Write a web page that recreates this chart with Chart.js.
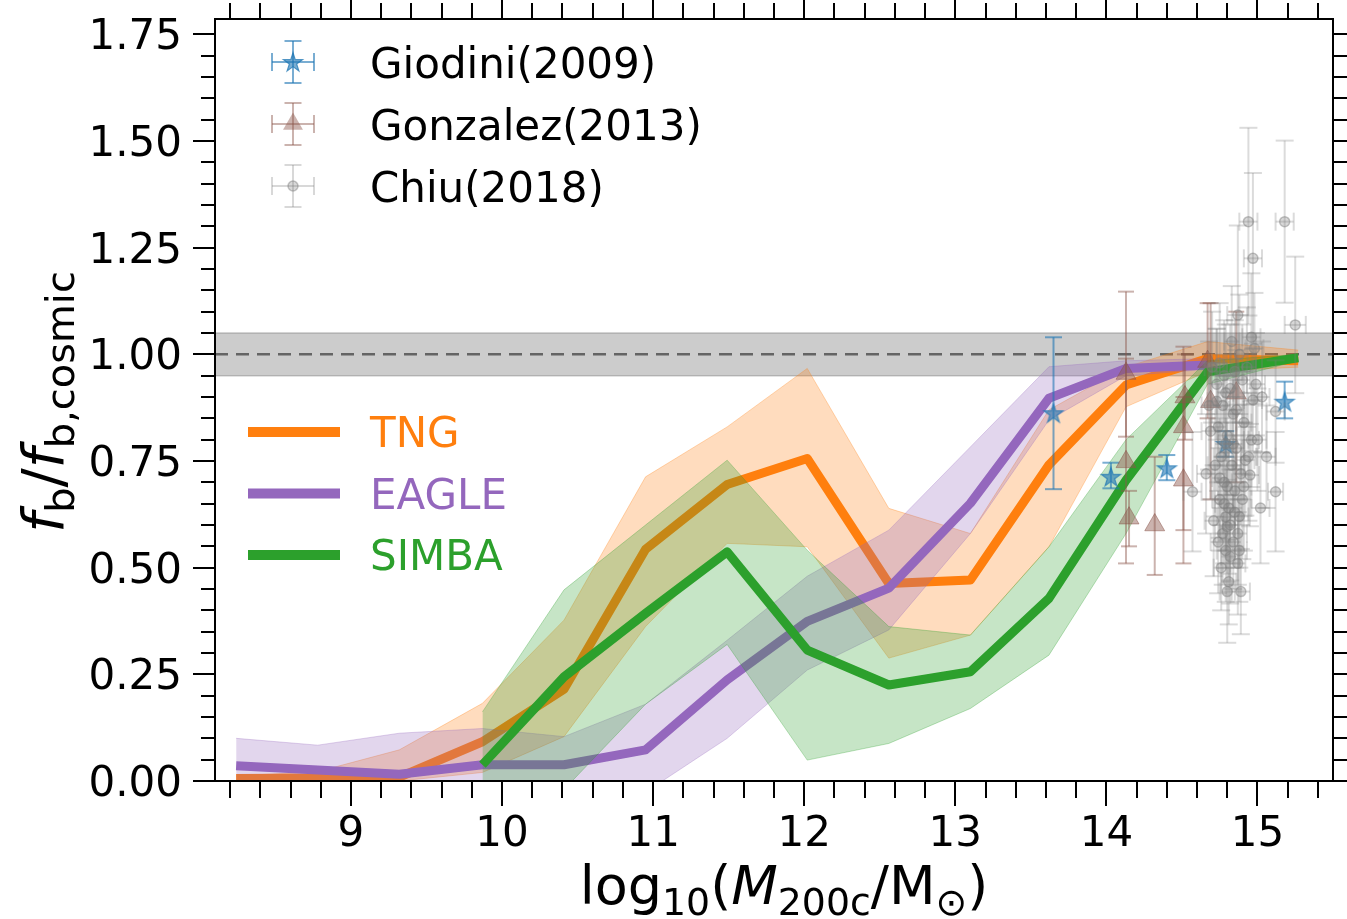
<!DOCTYPE html>
<html>
<head>
<meta charset="utf-8">
<title>Baryon fraction vs halo mass</title>
<script src="https://cdn.jsdelivr.net/npm/chart.js@4.4.1/dist/chart.umd.min.js"></script>
<style>
html,body{margin:0;padding:0;background:#ffffff;overflow:hidden;}
#box{position:relative;width:1347px;height:919px;}
</style>
</head>
<body>
<div id="box"><canvas id="chart" width="1347" height="919"></canvas></div>
<script>
// ---------------- data ----------------
const massBins = [8.24, 8.78, 9.32, 9.87, 10.41, 10.95, 11.49, 12.02, 12.56, 13.10, 13.62, 14.13, 14.67, 15.27];

const tngMedian = [0.006, 0.007, 0.009, 0.092, 0.215, 0.543, 0.695, 0.756, 0.463, 0.471, 0.741, 0.928, 0.990, 0.985];
const tngLow    = [0.000, 0.000, 0.000, 0.020, 0.104, 0.362, 0.557, 0.549, 0.288, 0.342, 0.549, 0.877, 0.960, 0.970];
const tngHigh   = [0.012, 0.022, 0.073, 0.182, 0.377, 0.713, 0.830, 0.967, 0.639, 0.580, 0.870, 0.970, 1.030, 1.010];

const eagleMedian = [0.036, 0.026, 0.016, 0.038, 0.038, 0.073, 0.237, 0.374, 0.452, 0.651, 0.897, 0.967, 0.975];
const eagleLow    = [0.000, 0.000, 0.000, 0.000, -0.020, -0.026, 0.100, 0.260, 0.354, 0.580, 0.846, 0.950, 0.965];
const eagleHigh   = [0.100, 0.084, 0.112, 0.123, 0.104, 0.180, 0.330, 0.480, 0.588, 0.783, 0.971, 0.985, 0.990];

const simbaMedian = [0.038, 0.244, 0.393, 0.537, 0.307, 0.225, 0.256, 0.428, 0.705, 0.959, 0.992];
const simbaLow    = [0.000, -0.020, 0.180, 0.320, 0.049, 0.088, 0.170, 0.295, 0.580, 0.930, 0.985];
const simbaHigh   = [0.162, 0.448, 0.600, 0.752, 0.541, 0.362, 0.342, 0.549, 0.800, 0.985, 1.000];

const giodiniX   = [13.65, 14.03, 14.40, 14.79, 15.18];
const giodiniY   = [0.862, 0.713, 0.733, 0.790, 0.889];
const giodiniYLo = [0.684, 0.686, 0.705, 0.760, 0.850];
const giodiniYHi = [1.040, 0.746, 0.764, 0.820, 0.936];

const gonzalezX   = [14.13, 14.13, 14.15, 14.32, 14.51, 14.51, 14.52, 14.69, 14.67, 14.86];
const gonzalezY   = [0.955, 0.748, 0.616, 0.600, 0.830, 0.705, 0.900, 0.889, 0.983, 0.909];
const gonzalezYLo = [0.807, 0.510, 0.550, 0.483, 0.588, 0.510, 0.800, 0.660, 0.850, 0.700];
const gonzalezYHi = [1.147, 0.990, 0.680, 0.760, 1.018, 0.900, 1.000, 1.120, 1.120, 1.100];

const chiuX = [15.25, 15.18, 14.94, 14.97, 14.87, 15.12, 15.12, 14.98, 14.97, 14.96,
               14.95, 14.92, 14.79, 14.79, 14.80, 14.82, 14.81, 14.89, 14.80, 14.57,
               14.75, 14.78, 14.82, 14.85, 14.88, 14.90, 14.77, 14.84, 14.91, 14.74,
               14.80, 14.86, 14.76, 14.83, 14.89, 14.78, 14.85, 14.75, 14.81, 14.88,
               14.77, 14.84, 14.79, 14.86, 14.93, 14.73, 14.96, 14.70, 14.83, 14.99,
               14.72, 15.00, 14.87, 14.76, 14.71, 14.74, 14.78, 14.82, 14.87, 14.91,
               14.69, 14.75, 14.80, 14.85, 14.90, 14.94, 14.73, 14.79, 14.84, 14.88,
               14.66, 15.03, 15.06, 14.68, 15.02];
const chiuY = [1.069, 1.311, 1.311, 1.225, 1.092, 0.866, 0.678, 1.014, 0.893, 0.799,
               0.717, 0.752, 0.791, 0.619, 0.596, 0.526, 0.467, 0.444, 0.444, 0.678,
               0.980, 0.950, 0.920, 0.960, 1.000, 0.940, 0.880, 0.860, 0.840, 0.830,
               0.810, 0.780, 0.760, 0.740, 0.720, 0.700, 0.680, 0.660, 0.640, 0.620,
               0.580, 0.560, 0.540, 0.870, 0.970, 0.930, 1.040, 0.970, 1.030, 0.930,
               0.740, 0.800, 0.510, 0.500, 0.610, 0.560, 0.650, 0.600, 0.580, 0.690,
               0.820, 0.710, 0.690, 0.630, 0.660, 0.760, 0.890, 0.910, 0.790, 0.540,
               0.720, 0.900, 0.760, 0.880, 0.640];
const chiuYErr = [0.16, 0.19, 0.22, 0.20, 0.21, 0.12, 0.14, 0.13, 0.12, 0.11,
                  0.12, 0.13, 0.12, 0.12, 0.11, 0.11, 0.10, 0.10, 0.12, 0.14,
                  0.14, 0.13, 0.15, 0.12, 0.14, 0.13, 0.12, 0.13, 0.12, 0.13,
                  0.14, 0.12, 0.12, 0.13, 0.12, 0.12, 0.13, 0.12, 0.13, 0.12,
                  0.12, 0.11, 0.12, 0.14, 0.14, 0.13, 0.15, 0.13, 0.13, 0.12,
                  0.12, 0.12, 0.12, 0.10, 0.13, 0.12, 0.14, 0.13, 0.12, 0.15,
                  0.16, 0.14, 0.15, 0.13, 0.14, 0.15, 0.17, 0.16, 0.15, 0.12,
                  0.14, 0.13, 0.12, 0.15, 0.13];
const chiuXErr = [0.07, 0.06, 0.06, 0.06, 0.07, 0.06, 0.05, 0.06, 0.06, 0.05,
                  0.06, 0.06, 0.05, 0.06, 0.05, 0.06, 0.05, 0.06, 0.05, 0.06,
                  0.05, 0.06, 0.05, 0.05, 0.06, 0.05, 0.05, 0.06, 0.05, 0.05,
                  0.06, 0.05, 0.05, 0.06, 0.05, 0.05, 0.06, 0.05, 0.05, 0.06,
                  0.05, 0.05, 0.06, 0.05, 0.06, 0.05, 0.06, 0.05, 0.05, 0.06,
                  0.05, 0.06, 0.05, 0.05, 0.06, 0.05, 0.06, 0.05, 0.06, 0.05,
                  0.06, 0.05, 0.06, 0.05, 0.06, 0.05, 0.06, 0.05, 0.06, 0.05,
                  0.06, 0.05, 0.06, 0.05, 0.06];

const cosmicX = [8.1, 15.5];
const cosmicLevel = 1.0;
const cosmicLow = 0.95;
const cosmicHigh = 1.05;

const xTickValues = [9, 10, 11, 12, 13, 14, 15];
const yTickValues = [0, 0.25, 0.5, 0.75, 1.0, 1.25, 1.5, 1.75];

const obsNames = ['Giodini(2009)', 'Gonzalez(2013)', 'Chiu(2018)'];
const simNames = ['TNG', 'EAGLE', 'SIMBA'];

// ---------------- styles ----------------
const FONT = "'DejaVu Sans', 'Verdana', sans-serif";
const COL = { tng: '#ff7f0e', eagle: '#9467bd', simba: '#2ca02c',
              gio: [31, 119, 180], gon: [140, 86, 75], chiu: [127, 127, 127] };
function rgba(hex, a) {
  const n = parseInt(hex.slice(1), 16);
  return `rgba(${(n >> 16) & 255},${(n >> 8) & 255},${n & 255},${a})`;
}
function rgbaA(arr, a) { return `rgba(${arr[0]},${arr[1]},${arr[2]},${a})`; }

function makeStar(R, fill, edge) {
  const s = Math.ceil(2 * R + 4);
  const c = document.createElement('canvas');
  c.width = s; c.height = s;
  const g = c.getContext('2d');
  g.translate(s / 2, s / 2 + R * 0.08);
  g.beginPath();
  for (let k = 0; k < 10; k++) {
    const r = (k % 2) ? R * 0.382 : R;
    const a = -Math.PI / 2 + k * Math.PI / 5;
    g.lineTo(r * Math.cos(a), r * Math.sin(a));
  }
  g.closePath();
  g.fillStyle = fill; g.fill();
  g.lineWidth = 1.2; g.strokeStyle = edge; g.stroke();
  return c;
}
const starImg = makeStar(10, rgbaA(COL.gio, 0.6), rgbaA(COL.gio, 0.75));

// ---------------- datasets ----------------
const datasets = [];
datasets.push({ label: 'cosmic-lo', data: cosmicX.map(x => ({ x, y: cosmicLow })),
  borderColor: 'rgba(128,128,128,0.45)', borderWidth: 1.5, pointRadius: 0, fill: false, order: 100 });
datasets.push({ label: 'cosmic-hi', data: cosmicX.map(x => ({ x, y: cosmicHigh })),
  borderColor: 'rgba(128,128,128,0.45)', borderWidth: 1.5, pointRadius: 0, fill: 0,
  backgroundColor: 'rgba(128,128,128,0.4)', order: 99 });
datasets.push({ label: 'unity', data: cosmicX.map(x => ({ x, y: cosmicLevel })),
  borderColor: 'rgba(60,60,60,0.72)', borderWidth: 2.5, borderDash: [13, 8], pointRadius: 0, fill: false, order: 98 });

function addSim(name, xs, med, lo, hi, color, order) {
  const iLo = datasets.length;
  datasets.push({ label: name + '-lo', data: xs.map((x, i) => ({ x, y: lo[i] })),
    borderColor: rgba(color, 0.3), borderWidth: 1, pointRadius: 0, fill: false, order: order });
  datasets.push({ label: name + '-hi', data: xs.map((x, i) => ({ x, y: hi[i] })),
    borderColor: rgba(color, 0.3), borderWidth: 1, pointRadius: 0, fill: iLo,
    backgroundColor: rgba(color, 0.27), order: order - 1 });
  datasets.push({ label: name, data: xs.map((x, i) => ({ x, y: med[i] })),
    borderColor: color, borderWidth: 9, pointRadius: 0, fill: false,
    borderJoinStyle: 'round', borderCapStyle: 'butt', order: order - 2 });
}
addSim('TNG', massBins, tngMedian, tngLow, tngHigh, COL.tng, 90);
addSim('EAGLE', massBins.slice(0, eagleMedian.length), eagleMedian, eagleLow, eagleHigh, COL.eagle, 80);
addSim('SIMBA', massBins.slice(massBins.length - simbaMedian.length), simbaMedian, simbaLow, simbaHigh, COL.simba, 70);

datasets.push({ label: obsNames[0],
  data: giodiniX.map((x, i) => ({ x, y: giodiniY[i], yl: giodiniYLo[i], yh: giodiniYHi[i] })),
  showLine: false, pointStyle: starImg, pointRadius: 10,
  backgroundColor: rgbaA(COL.gio, 0.6), borderColor: rgbaA(COL.gio, 0.6),
  errorBars: { color: rgbaA(COL.gio, 0.6), width: 2, cap: 8.5 }, order: 12 });
datasets.push({ label: obsNames[1],
  data: gonzalezX.map((x, i) => ({ x, y: gonzalezY[i], yl: gonzalezYLo[i], yh: gonzalezYHi[i] })),
  showLine: false, pointStyle: 'triangle', pointRadius: 11.5,
  backgroundColor: rgbaA(COL.gon, 0.45), borderColor: rgbaA(COL.gon, 0.5), borderWidth: 1,
  errorBars: { color: rgbaA(COL.gon, 0.45), width: 2, cap: 8 }, order: 11 });
datasets.push({ label: obsNames[2],
  data: chiuX.map((x, i) => ({ x, y: chiuY[i], yl: chiuY[i] - chiuYErr[i], yh: chiuY[i] + chiuYErr[i],
                                xl: x - chiuXErr[i], xh: x + chiuXErr[i] })),
  showLine: false, pointStyle: 'circle', pointRadius: 5,
  backgroundColor: rgbaA(COL.chiu, 0.3), borderColor: rgbaA(COL.chiu, 0.45), borderWidth: 1.5,
  errorBars: { color: rgbaA(COL.chiu, 0.28), width: 2, cap: 9 }, order: 10 });

// ---------------- plugins ----------------
function seg(ctx, x1, y1, x2, y2) { ctx.beginPath(); ctx.moveTo(x1, y1); ctx.lineTo(x2, y2); ctx.stroke(); }

const errorBarPlugin = {
  id: 'errorBars',
  beforeDatasetDraw(chart, args) {
    const ds = chart.data.datasets[args.index];
    if (!ds.errorBars) return;
    const xs = chart.scales.x, ys = chart.scales.y, ctx = chart.ctx, eb = ds.errorBars;
    ctx.save();
    ctx.strokeStyle = eb.color; ctx.lineWidth = eb.width; ctx.lineCap = 'butt';
    ds.data.forEach(p => {
      const px = xs.getPixelForValue(p.x), py = ys.getPixelForValue(p.y);
      if (p.yl !== undefined) {
        const y1 = ys.getPixelForValue(p.yl), y2 = ys.getPixelForValue(p.yh);
        seg(ctx, px, y1, px, y2);
        seg(ctx, px - eb.cap, y1, px + eb.cap, y1);
        seg(ctx, px - eb.cap, y2, px + eb.cap, y2);
      }
      if (p.xl !== undefined) {
        const x1 = xs.getPixelForValue(p.xl), x2 = xs.getPixelForValue(p.xh);
        seg(ctx, x1, py, x2, py);
        seg(ctx, x1, py - eb.cap, x1, py + eb.cap);
        seg(ctx, x2, py - eb.cap, x2, py + eb.cap);
      }
    });
    ctx.restore();
  }
};

function drawRuns(ctx, runs, F, x0, y0) {
  let x = x0;
  runs.forEach(r => {
    const size = r.sub ? F * 0.7 : F;
    ctx.font = `${r.it ? 'italic ' : ''}${size}px ${FONT}`;
    ctx.fillText(r.t, x, y0 + (r.sub ? F * 0.2 : 0));
    x += ctx.measureText(r.t).width;
  });
}
function runsWidth(ctx, runs, F) {
  let w = 0;
  runs.forEach(r => {
    const size = r.sub ? F * 0.7 : F;
    ctx.font = `${r.it ? 'italic ' : ''}${size}px ${FONT}`;
    w += ctx.measureText(r.t).width;
  });
  return w;
}
const xTitleRuns = [{ t: 'log' }, { t: '10', sub: true }, { t: '(' }, { t: 'M', it: true }, { t: '200c', sub: true },
                    { t: '/M' }, { t: '\u2299', sub: true }, { t: ')' }];
const yTitleRuns = [{ t: 'f', it: true }, { t: 'b', sub: true }, { t: '/' }, { t: 'f', it: true }, { t: 'b,cosmic', sub: true }];

const framePlugin = {
  id: 'frame',
  afterDraw(chart) {
    const ctx = chart.ctx, a = chart.chartArea, xs = chart.scales.x, ys = chart.scales.y;
    ctx.save();
    ctx.strokeStyle = '#000'; ctx.lineWidth = 2; ctx.lineCap = 'butt';
    for (let k = Math.ceil(xs.min * 5); k <= Math.floor(xs.max * 5); k++) {
      const px = Math.round(xs.getPixelForValue(k / 5));
      const major = k % 5 === 0;
      seg(ctx, px, a.bottom, px, a.bottom + (major ? 25 : 17));
      seg(ctx, px, a.top, px, a.top - (major ? 25 : 16));
    }
    for (let k = 0; k <= Math.floor(ys.max * 20 + 1e-9); k++) {
      const py = Math.round(ys.getPixelForValue(k / 20));
      const major = k % 5 === 0;
      seg(ctx, a.left, py, a.left - (major ? 22 : 14), py);
      seg(ctx, a.right, py, a.right + (major ? 22 : 14), py);
    }
    ctx.strokeRect(a.left, a.top, a.right - a.left, a.bottom - a.top);

    ctx.fillStyle = '#000'; ctx.textBaseline = 'alphabetic'; ctx.textAlign = 'left';
    const wx = runsWidth(ctx, xTitleRuns, 54);
    drawRuns(ctx, xTitleRuns, 54, 784 - wx / 2, 904);
    ctx.save();
    ctx.translate(63, (a.top + a.bottom) / 2 + 2);
    ctx.rotate(-Math.PI / 2);
    const wy = runsWidth(ctx, yTitleRuns, 57);
    drawRuns(ctx, yTitleRuns, 57, -wy / 2, 0);
    ctx.restore();

    const rows = [62, 124, 186], ix = 293, tx = 370;
    const legCols = [rgbaA(COL.gio, 0.6), rgbaA(COL.gon, 0.45), rgbaA(COL.chiu, 0.3)];
    rows.forEach((ry, i) => {
      ctx.strokeStyle = legCols[i]; ctx.lineWidth = 2;
      seg(ctx, ix - 21, ry, ix + 21, ry);
      seg(ctx, ix - 21, ry - 9, ix - 21, ry + 9);
      seg(ctx, ix + 21, ry - 9, ix + 21, ry + 9);
      seg(ctx, ix, ry - 21, ix, ry + 21);
      seg(ctx, ix - 8.5, ry - 21, ix + 8.5, ry - 21);
      seg(ctx, ix - 8.5, ry + 21, ix + 8.5, ry + 21);
      if (i === 0) {
        ctx.drawImage(starImg, ix - starImg.width / 2, ry - starImg.height / 2);
      } else if (i === 1) {
        const r = 11.5;
        ctx.beginPath();
        ctx.moveTo(ix, ry - r);
        ctx.lineTo(ix + r * Math.sin(2 * Math.PI / 3), ry - r * Math.cos(2 * Math.PI / 3));
        ctx.lineTo(ix + r * Math.sin(4 * Math.PI / 3), ry - r * Math.cos(4 * Math.PI / 3));
        ctx.closePath();
        ctx.fillStyle = rgbaA(COL.gon, 0.45); ctx.fill();
      } else {
        ctx.beginPath(); ctx.arc(ix, ry, 5, 0, 2 * Math.PI);
        ctx.fillStyle = rgbaA(COL.chiu, 0.3); ctx.fill();
        ctx.strokeStyle = rgbaA(COL.chiu, 0.45); ctx.lineWidth = 1.5; ctx.stroke();
      }
      ctx.fillStyle = '#000';
      ctx.font = `42px ${FONT}`;
      ctx.fillText(obsNames[i], tx, ry + 15.5);
    });

    const srows = [432, 493.5, 555];
    const scols = [COL.tng, COL.eagle, COL.simba];
    srows.forEach((ry, i) => {
      ctx.strokeStyle = scols[i]; ctx.lineWidth = 10;
      seg(ctx, 248, ry, 340, ry);
      ctx.fillStyle = scols[i];
      ctx.font = `42px ${FONT}`;
      ctx.fillText(simNames[i], 370, ry + 15);
    });
    ctx.restore();
  }
};

Chart.defaults.color = '#000';
new Chart(document.getElementById('chart'), {
  type: 'line',
  data: { datasets },
  options: {
    responsive: false,
    animation: false,
    devicePixelRatio: 1,
    layout: { padding: { top: 19, right: 14, left: 0, bottom: 0 } },
    plugins: { legend: { display: false }, tooltip: { enabled: false } },
    elements: { line: { tension: 0 } },
    scales: {
      x: {
        type: 'linear', min: 8.1, max: 15.5,
        grid: { display: false, drawTicks: false }, border: { display: false },
        afterBuildTicks: s => { s.ticks = xTickValues.map(v => ({ value: v })); },
        afterFit: s => { s.height = 138; s.paddingLeft = 0; s.paddingRight = 0; },
        ticks: { font: { family: FONT, size: 42 }, color: '#000', padding: 29, maxRotation: 0, autoSkip: false,
                 callback: v => String(v) }
      },
      y: {
        type: 'linear', min: 0, max: 1.786,
        grid: { display: false, drawTicks: false }, border: { display: false },
        afterBuildTicks: s => { s.ticks = yTickValues.map(v => ({ value: v })); },
        afterFit: s => { s.width = 215; s.paddingTop = 0; s.paddingBottom = 0; },
        ticks: { font: { family: FONT, size: 42 }, color: '#000', padding: 33, labelOffset: 4, autoSkip: false,
                 callback: v => Number(v).toFixed(2) }
      }
    }
  },
  plugins: [errorBarPlugin, framePlugin]
});
</script>
</body>
</html>
